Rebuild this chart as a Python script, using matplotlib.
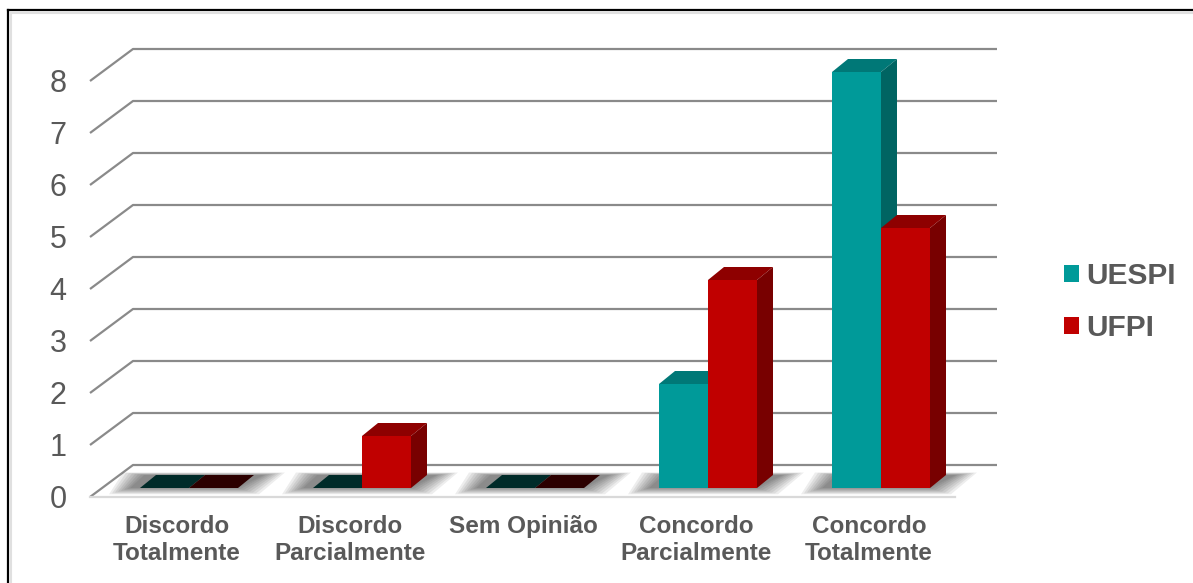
import matplotlib
matplotlib.use('Agg')
import matplotlib.pyplot as plt
from matplotlib.patches import Polygon, Patch
from matplotlib.lines import Line2D

categories = ['Discordo\nTotalmente', 'Discordo\nParcialmente', 'Sem Opinião',
              'Concordo\nParcialmente', 'Concordo\nTotalmente']
uespi = [0, 0, 0, 2, 8]
ufpi = [0, 1, 0, 4, 5]
series_names = ['UESPI', 'UFPI']
y_ticks = [0, 1, 2, 3, 4, 5, 6, 7, 8]

# front, top, side, flat (zero bar) colours
teal = ('#009a99', '#007877', '#006462', '#002b29')
red = ('#c00000', '#8e0000', '#780000', '#2c0000')
grid_color = '#8a8a8a'
text_color = '#595959'

plt.rcParams['font.family'] = ['Liberation Sans', 'DejaVu Sans']

fig = plt.figure(figsize=(11.93, 5.83), dpi=100)
ax = fig.add_axes([0, 0, 1, 1])
ax.set_xlim(-189/173, (1193 - 189)/173)
ax.set_ylim((488 - 583)/52, 488/52)
ax.axis('off')

bar_w = 49/173
ddx, ddy = 16/173, 13/52          # bar depth
back_dx, back_dy = -56/173, 23/52  # back wall offset from bar front
front_dx, front_dy = -99/173, -9/52  # front end of the gridline diagonals
right_x = (997 - 189)/173

# gridlines: diagonal + back wall
for v in y_ticks:
    ax.plot([front_dx, back_dx, right_x], [v + front_dy, v + back_dy, v + back_dy],
            color=grid_color, lw=1.6, zorder=1, solid_capstyle='butt')
    ax.text(-131/173, v + front_dy - 0.05, str(v), ha='center', va='center',
            fontsize=22, color=text_color)

# floor front edge
ax.plot([front_dx, (955 - 189)/173], [front_dy, front_dy], color='#d9d9d9', lw=1.6, zorder=1)


def shadow(x0, width):
    for k in range(8):
        e = k*3/173
        ey = k*0.9/52
        poly = [(x0 - e - 10/173, -ey), (x0 + width + e, -ey),
                (x0 + width + e + 26/173, ddy + ey*0.4), (x0 - e + 4/173, ddy + ey*0.4)]
        ax.add_patch(Polygon(poly, closed=True, facecolor='black', edgecolor='none',
                             alpha=0.07, zorder=2))


def bar3d(x0, v, colors):
    front, top, side, flat = colors
    if v == 0:
        poly = [(x0, 0), (x0 + bar_w, 0), (x0 + bar_w + ddx, ddy), (x0 + ddx, ddy)]
        ax.add_patch(Polygon(poly, closed=True, facecolor=flat, edgecolor='none', zorder=3))
        return
    ax.add_patch(Polygon([(x0, v), (x0 + bar_w, v), (x0 + bar_w + ddx, v + ddy), (x0 + ddx, v + ddy)],
                         closed=True, facecolor=top, edgecolor='none', zorder=3))
    ax.add_patch(Polygon([(x0 + bar_w, 0), (x0 + bar_w + ddx, ddy), (x0 + bar_w + ddx, v + ddy), (x0 + bar_w, v)],
                         closed=True, facecolor=side, edgecolor='none', zorder=3))
    ax.add_patch(Polygon([(x0, 0), (x0 + bar_w, 0), (x0 + bar_w, v), (x0, v)],
                         closed=True, facecolor=front, edgecolor='none', zorder=3))


for i, cat in enumerate(categories):
    shadow(i - bar_w, 2*bar_w)
    bar3d(i - bar_w, uespi[i], teal)
    bar3d(i, ufpi[i], red)
    ax.text(i - 12/173, -27/52, cat, ha='center', va='top', fontsize=17.5,
            fontweight='bold', color=text_color, linespacing=1.22)

handles = [Patch(facecolor=teal[0], edgecolor='none'), Patch(facecolor=red[0], edgecolor='none')]
ax.legend(handles, series_names, loc='center left', bbox_to_anchor=(1064/1193, 1 - 302/583),
          bbox_transform=fig.transFigure, frameon=False, borderpad=0, borderaxespad=0,
          handlelength=0.5, handleheight=0.5, handletextpad=0.25, labelspacing=0.78,
          prop={'size': 21.5, 'weight': 'bold'}, labelcolor=text_color)

# outer frame (left and top only, picture is cropped)
fig.add_artist(Line2D([8/1193, 8/1193], [0, 1 - 10/583], color='black', lw=1.6))
fig.add_artist(Line2D([8/1193, 1], [1 - 10/583, 1 - 10/583], color='black', lw=1.6))
fig.add_artist(Line2D([10.5/1193, 10.5/1193], [0, 1 - 12.5/583], color='#e0e0e0', lw=1.5))
fig.add_artist(Line2D([10.5/1193, 1], [1 - 12.5/583, 1 - 12.5/583], color='#e0e0e0', lw=1.5))

fig.savefig('out.png', dpi=100)
